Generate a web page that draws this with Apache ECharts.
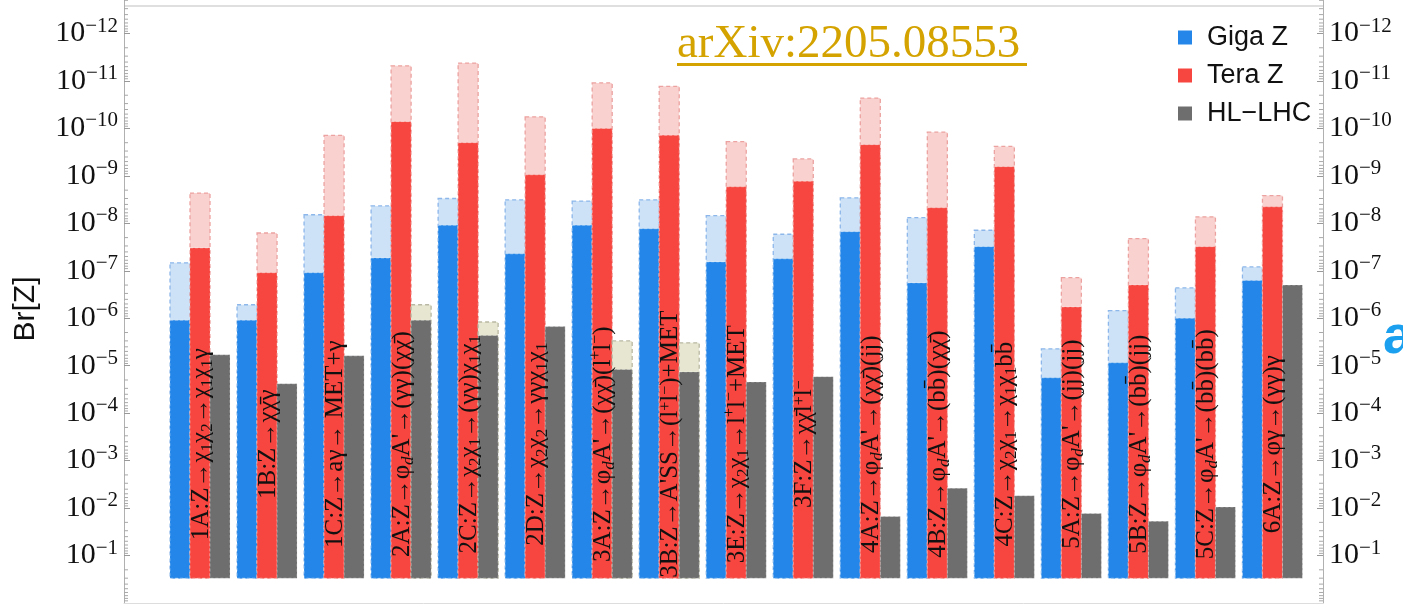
<!DOCTYPE html>
<html>
<head>
<meta charset="utf-8">
<script src="https://cdn.jsdelivr.net/npm/echarts@6/dist/echarts.min.js"></script>
<style>
  html, body { margin: 0; padding: 0; background: #ffffff; }
  #chart { width: 1403px; height: 604px; }
</style>
</head>
<body>
<div id="chart"></div>
<script>
// Benchmark exotic Z decay channels
const categories = ['1A', '1B', '1C', '2A', '2C', '2D', '3A', '3B', '3E', '3F',
                    '4A', '4B', '4C', '5A', '5B', '5C', '6A'];

// Channel labels written inside each group ({s|..} subscript, {d|d} dark-sector subscript)
const channelLabels = [
  '1A:Z→χ{s|1}χ{s|2}→χ{s|1}χ{s|1}γ',
  '1B:Z→χχ\u0304γ',
  '1C:Z→aγ→ MET+γ',
  '2A:Z→φ{d|d}A\'→(γγ)(χχ\u0304)',
  '2C:Z→χ{s|2}χ{s|1}→(γγ)χ{s|1}χ{s|1}',
  '2D:Z→χ{s|2}χ{s|2}→γγχ{s|1}χ{s|1}',
  '3A:Z→φ{d|d}A\'→(χχ\u0304)(l{p|+}l{p|\u2212})',
  '3B:Z→A\'SS→(l{p|+}l{p|\u2212})+MET',
  '3E:Z→χ{s|2}χ{s|1}→l{p|+}l{p|\u2212}+MET',
  '3F:Z→χχ\u0304l{p|+}l{p|\u2212}',
  '4A:Z→φ{d|d}A\'→(χχ\u0304)(jj)',
  '4B:Z→φ{d|d}A\'→(bb\u0304)(χχ\u0304)',
  '4C:Z→χ{s|2}χ{s|1}→χ{s|1}χ{s|1}bb\u0304',
  '5A:Z→φ{d|d}A\'→(jj)(jj)',
  '5B:Z→φ{d|d}A\'→(bb\u0304)(jj)',
  '5C:Z→φ{d|d}A\'→(bb\u0304)(bb\u0304)',
  '6A:Z→φγ→(γγ)γ'
];

// Branching-ratio reach (solid) and extended reach (dashed, lighter)
const gigaZ      = [1.1e-6, 1.1e-6, 1.1e-7, 5.4e-8, 1.1e-8, 4.4e-8, 1.1e-8, 1.3e-8, 6.5e-8,
                    5.6e-8, 1.5e-8, 1.8e-7, 3.1e-8, 1.8e-5, 8.7e-6, 1.0e-6, 1.6e-7];
const gigaZExt   = [6.8e-8, 5.2e-7, 6.6e-9, 4.3e-9, 3.0e-9, 3.2e-9, 3.4e-9, 3.2e-9, 6.9e-9,
                    1.7e-8, 2.9e-9, 7.6e-9, 1.4e-8, 4.4e-6, 6.9e-7, 2.3e-7, 8.3e-8];
const teraZ      = [3.3e-8, 1.1e-7, 6.9e-9, 7.2e-11, 2.0e-10, 9.5e-10, 1.0e-10, 1.4e-10, 1.7e-9,
                    1.3e-9, 2.2e-10, 4.7e-9, 6.4e-10, 5.8e-7, 2.0e-7, 3.1e-8, 4.5e-9];
const teraZExt   = [2.3e-9, 1.6e-8, 1.4e-10, 4.8e-12, 4.2e-12, 5.7e-11, 1.1e-11, 1.3e-11, 1.9e-10,
                    4.4e-10, 2.3e-11, 1.2e-10, 2.4e-10, 1.4e-7, 2.1e-8, 7.3e-9, 2.6e-9];
const hlLhc      = [5.9e-6, 2.4e-5, 6.2e-6, 1.1e-6, 2.3e-6, 1.5e-6, 1.2e-5, 1.35e-5, 2.2e-5,
                    1.7e-5, 1.5e-2, 3.8e-3, 5.5e-3, 1.3e-2, 1.9e-2, 9.5e-3, 2.0e-7];
const hlLhcExt   = [null, null, null, 5.2e-7, 1.2e-6, null, 3.0e-6, 3.3e-6, null,
                    null, null, null, null, null, null, null, null];

// Decade tick values on the Br[Z] axes
const decadeTicks = [1e-12, 1e-11, 1e-10, 1e-9, 1e-8, 1e-7, 1e-6, 1e-5, 1e-4, 1e-3, 1e-2, 1e-1];

// Axis range (top of frame ≈ 10^-12.7) and the value the bars rise from
const Y_MIN = 1.97e-13;
const Y_MAX = 1;
const BAR_BASE = 0.3;
const X_MIN = -1.134;
const X_MAX = 16.754;
const BAR_FRACTION = 0.2984;

const COLORS = {
  giga:  { fill: '#2386e8', ext: '#cde2f7', extLine: '#8db7ea' },
  tera:  { fill: '#f6463f', ext: '#f9d2cf', extLine: '#eba2a0' },
  lhc:   { fill: '#6e6e6e', ext: '#e6e6d1', extLine: '#b9b8a2' }
};

const chart = echarts.init(document.getElementById('chart'), null, { renderer: 'canvas' });

function seriesData(values, ext) {
  return values.map((v, i) => [i, v, ext[i] == null ? NaN : ext[i]]);
}

function barRenderer(slot, palette) {
  return function (params, api) {
    const i = api.value(0);
    const v = api.value(1);
    const ext = api.value(2);
    const base = api.coord([i, BAR_BASE]);
    const unit = api.coord([i + 1, BAR_BASE])[0] - base[0];
    const w = unit * BAR_FRACTION;
    const x0 = base[0] + (slot - 1.5) * w;
    const children = [];
    if (isFinite(ext) && ext > 0) {
      const ye = api.coord([i, ext])[1];
      children.push({
        type: 'rect',
        shape: { x: x0, y: ye, width: w, height: base[1] - ye },
        style: { fill: palette.ext, stroke: palette.extLine, lineWidth: 1.3, lineDash: [4, 3] }
      });
    }
    const yv = api.coord([i, v])[1];
    children.push({
      type: 'rect',
      shape: { x: x0, y: yv, width: w, height: base[1] - yv },
      style: { fill: palette.fill, stroke: 'rgba(255,255,255,0.35)', lineWidth: 1, lineDash: [3, 2] }
    });
    return { type: 'group', children };
  };
}

function labelRenderer(params, api) {
  const i = api.value(0);
  const base = api.coord([i, BAR_BASE]);
  return {
    type: 'text',
    x: base[0] + 1,
    y: base[1] - 134,
    rotation: Math.PI / 2,
    style: {
      text: channelLabels[i],
      fill: '#111111',
      font: '25px "Liberation Serif", "DejaVu Serif", serif',
      align: 'center',
      verticalAlign: 'middle',
      rich: {
        s: { fontSize: 17, fontFamily: 'Liberation Serif', verticalAlign: 'bottom', lineHeight: 30, fill: '#111111' },
        d: { fontSize: 17, fontFamily: 'Liberation Serif', fontStyle: 'italic', verticalAlign: 'bottom', lineHeight: 30, fill: '#111111' },
        p: { fontSize: 16, fontFamily: 'Liberation Serif', verticalAlign: 'top', lineHeight: 16, fill: '#111111' }
      }
    }
  };
}

// Log-spaced minor ticks (2..9 × 10^k) on both vertical axes
const minorTicks = [];
for (let k = -13; k < 0; k++) {
  for (let m = 2; m <= 9; m++) {
    const v = m * Math.pow(10, k);
    if (v < Y_MIN) continue;
    minorTicks.push([0, v]);
    minorTicks.push([1, v]);
  }
}

function minorTickRenderer(params, api) {
  const side = api.value(0);
  const v = api.value(1);
  const p = api.coord([side === 0 ? X_MIN : X_MAX, v]);
  const dir = side === 0 ? 1 : -1;
  return {
    type: 'line',
    shape: { x1: p[0], y1: p[1], x2: p[0] + dir * 4, y2: p[1] },
    style: { stroke: '#a8a8a8', lineWidth: 1 }
  };
}

function tickLabel(value) {
  const e = Math.round(Math.log10(value));
  return '{b|10}{s|\u2212' + (-e) + '}';
}

const labelRich = {
  b: { fontSize: 30, fontFamily: 'Liberation Serif', color: '#111111', lineHeight: 36, verticalAlign: 'middle' },
  s: { fontSize: 21, fontFamily: 'Liberation Serif', color: '#111111', lineHeight: 21, verticalAlign: 'top' }
};

function yAxisDef(position) {
  return {
    type: 'log',
    logBase: 10,
    position,
    inverse: true,
    min: Y_MIN,
    max: Y_MAX,
    splitLine: { show: false },
    axisLine: { show: true, onZero: false, lineStyle: { color: '#b0b0b0', width: 1 } },
    axisTick: { show: true, inside: true, length: 6, customValues: decadeTicks, lineStyle: { color: '#999999' } },
    axisLabel: { formatter: tickLabel, customValues: decadeTicks, rich: labelRich, margin: 6 }
  };
}

const option = {
  backgroundColor: '#ffffff',
  animation: false,
  grid: { left: 124, right: 80, top: 0, bottom: 1, containLabel: false },
  xAxis: {
    type: 'value',
    min: X_MIN,
    max: X_MAX,
    axisLine: { show: true, onZero: false, lineStyle: { color: '#dddddd' } },
    axisTick: { show: false },
    axisLabel: { show: false },
    splitLine: { show: false }
  },
  yAxis: [yAxisDef('left'), yAxisDef('right')],
  legend: {
    orient: 'vertical',
    left: 1173,
    top: 19,
    itemWidth: 14,
    itemHeight: 14,
    itemGap: 11,
    icon: 'rect',
    textStyle: { fontSize: 27, fontFamily: 'Liberation Sans', color: '#111111', padding: [0, 0, 0, 10] },
    data: ['Giga Z', 'Tera Z', 'HL\u2212LHC']
  },
  graphic: [
    { type: 'line', shape: { x1: 124, y1: 6, x2: 1323, y2: 6 }, style: { stroke: '#d4d4d4', lineWidth: 1.5 }, silent: true },
    {
      type: 'text', x: 26, y: 309, rotation: Math.PI / 2,
      style: { text: 'Br[Z]', font: '30px "Liberation Sans", sans-serif', fill: '#111111', align: 'center', verticalAlign: 'middle' }
    },
    {
      type: 'text', x: 677, y: 68,
      style: { text: 'arXiv:2205.08553', font: '47px "Liberation Serif", serif', fill: '#d4a300', align: 'left', verticalAlign: 'bottom' }
    },
    { type: 'rect', shape: { x: 677, y: 63, width: 350, height: 3 }, style: { fill: '#d4a300' } },
    {
      type: 'text', x: 1383, y: 338,
      style: { text: 'a', font: 'bold 54px "Liberation Sans", sans-serif', fill: '#1aa0ee', align: 'left', verticalAlign: 'middle' }
    }
  ],
  series: [
    {
      name: 'Giga Z', type: 'custom', renderItem: barRenderer(0, COLORS.giga),
      itemStyle: { color: COLORS.giga.fill }, encode: { x: 0, y: 1 },
      data: seriesData(gigaZ, gigaZExt), z: 2
    },
    {
      name: 'Tera Z', type: 'custom', renderItem: barRenderer(1, COLORS.tera),
      itemStyle: { color: COLORS.tera.fill }, encode: { x: 0, y: 1 },
      data: seriesData(teraZ, teraZExt), z: 2
    },
    {
      name: 'HL\u2212LHC', type: 'custom', renderItem: barRenderer(2, COLORS.lhc),
      itemStyle: { color: COLORS.lhc.fill }, encode: { x: 0, y: 1 },
      data: seriesData(hlLhc, hlLhcExt), z: 2
    },
    {
      name: 'channels', type: 'custom', renderItem: labelRenderer, silent: true,
      encode: { x: 0, y: 1 }, data: categories.map((c, i) => [i, BAR_BASE]), z: 5
    },
    {
      name: 'minor ticks', type: 'custom', renderItem: minorTickRenderer, silent: true,
      encode: { x: 0, y: 1 }, data: minorTicks, z: 1
    }
  ]
};

chart.setOption(option);
</script>
</body>
</html>
